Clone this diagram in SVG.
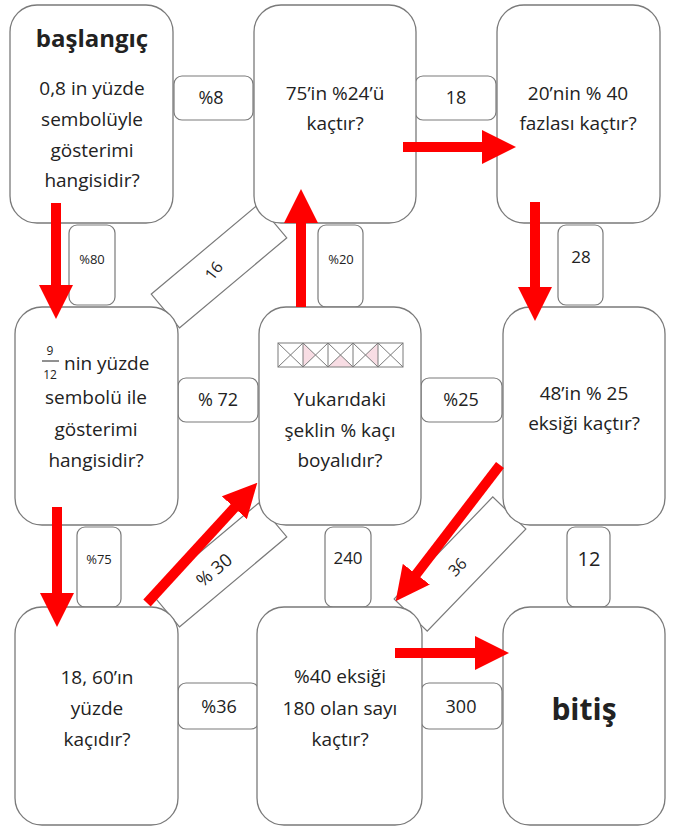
<svg xmlns="http://www.w3.org/2000/svg" width="675" height="827" viewBox="0 0 675 827">
<defs>
<style>
.node{fill:#fff;stroke:#7a7a7a;stroke-width:1.3}
.lbl{fill:#fff;stroke:#7a7a7a;stroke-width:1.2}
text{font-family:"Open Sans","Liberation Sans",sans-serif;fill:#222;text-anchor:middle}
.t{font-size:19px}
.b{font-weight:bold}
.s{font-size:18px}
.xs{font-size:13px}
.arrow{stroke:#ff0000;stroke-width:10;fill:none;marker-end:url(#ah)}
.grid line{stroke:#7a7a7a;stroke-width:1}
.pink{fill:#f8dde4}
</style>
<marker id="ah" markerUnits="userSpaceOnUse" markerWidth="34" markerHeight="34" viewBox="0 0 34 34" refX="1" refY="17" orient="auto"><path d="M0,0 L34,17 L0,34 z" fill="#ff0000"/></marker>
</defs>
<rect width="675" height="827" fill="#fff"/>

<g id="edge-labels">
  <g id="lbl-8"><rect class="lbl" x="174" y="76" width="79" height="44" rx="8"/><text class="s" x="211" y="104">%8</text></g>
  <g id="lbl-18"><rect class="lbl" x="415" y="76" width="81" height="44" rx="8"/><text class="s" x="456" y="104">18</text></g>
  <g id="lbl-72"><rect class="lbl" x="178" y="378" width="80" height="44" rx="8"/><text class="s" x="218" y="406">% 72</text></g>
  <g id="lbl-25"><rect class="lbl" x="421" y="378" width="81" height="44" rx="8"/><text class="s" x="461" y="406">%25</text></g>
  <g id="lbl-36"><rect class="lbl" x="178" y="683" width="81" height="46" rx="8"/><text class="s" x="219" y="713">%36</text></g>
  <g id="lbl-300"><rect class="lbl" x="421" y="683" width="81" height="46" rx="8"/><text class="s" x="461" y="713">300</text></g>
  <g id="lbl-80"><rect class="lbl" x="69" y="225" width="46" height="80" rx="8"/><text class="xs" x="92" y="264">%80</text></g>
  <g id="lbl-20"><rect class="lbl" x="318" y="225" width="45" height="82" rx="8"/><text class="xs" x="341" y="264">%20</text></g>
  <g id="lbl-28"><rect class="lbl" x="558" y="225" width="45" height="80" rx="8"/><text x="581" y="263" font-size="17">28</text></g>
  <g id="lbl-75"><rect class="lbl" x="77" y="527" width="44" height="80" rx="8"/><text class="xs" x="99" y="564">%75</text></g>
  <g id="lbl-240"><rect class="lbl" x="325" y="527" width="46" height="80" rx="8"/><text x="348" y="564" font-size="17">240</text></g>
  <g id="lbl-12"><rect class="lbl" x="567" y="527" width="43" height="80" rx="8"/><text x="589" y="566" font-size="20">12</text></g>
  <g id="lbl-16" transform="translate(219,266) rotate(-40)"><rect class="lbl" x="-70" y="-22" width="140" height="44"/><text x="-7" y="6" font-size="16" transform="rotate(-12 -7 0)">16</text></g>
  <g id="lbl-30" transform="translate(219,565) rotate(-40)"><rect class="lbl" x="-70" y="-22" width="140" height="44"/><text x="-7" y="7" font-size="18">% 30</text></g>
  <g id="lbl-36d" transform="translate(460,564) rotate(-46)"><rect class="lbl" x="-71" y="-23" width="142" height="46"/><text x="-4" y="6" font-size="16">36</text></g>
</g>

<g id="node-baslangic">
  <rect class="node" x="10" y="5" width="163" height="218" rx="27"/>
  <text class="b" x="92" y="47" font-size="24">başlangıç</text>
  <text class="t" x="92" y="95">0,8 in yüzde</text>
  <text class="t" x="92" y="126">sembolüyle</text>
  <text class="t" x="92" y="157">gösterimi</text>
  <text class="t" x="92" y="187">hangisidir?</text>
</g>
<g id="node-75">
  <rect class="node" x="254" y="5" width="162" height="218" rx="27"/>
  <text class="t" x="335" y="100">75’in %24’ü</text>
  <text class="t" x="335" y="130">kaçtır?</text>
</g>
<g id="node-20">
  <rect class="node" x="497" y="5" width="163" height="218" rx="27"/>
  <text class="t" x="578" y="100">20’nin % 40</text>
  <text class="t" x="578" y="130">fazlası kaçtır?</text>
</g>
<g id="node-9-12">
  <rect class="node" x="15" y="307" width="163" height="218" rx="27"/>
  <text x="50" y="355" font-size="12">9</text>
  <line x1="42" y1="361" x2="59" y2="361" stroke="#222" stroke-width="1"/>
  <text x="50" y="379" font-size="12">12</text>
  <text class="t" x="64" y="370" style="text-anchor:start">nin yüzde</text>
  <text class="t" x="96" y="404">sembolü ile</text>
  <text class="t" x="96" y="436">gösterimi</text>
  <text class="t" x="96" y="467">hangisidir?</text>
</g>
<g id="node-yukaridaki">
  <rect class="node" x="259" y="307" width="162" height="218" rx="27"/>
  <g class="grid">
    <polygon class="pink" points="303,343 315.5,355 303,367"/>
    <polygon class="pink" points="328,367 340.5,355 353,367"/>
    <polygon class="pink" points="378,343 365.5,355 378,367"/>
    <rect x="278" y="343" width="125" height="24" fill="none" stroke="#7a7a7a" stroke-width="1"/>
    <line x1="303" y1="343" x2="303" y2="367"/><line x1="328" y1="343" x2="328" y2="367"/><line x1="353" y1="343" x2="353" y2="367"/><line x1="378" y1="343" x2="378" y2="367"/>
    <line x1="278" y1="343" x2="303" y2="367"/><line x1="303" y1="343" x2="278" y2="367"/>
    <line x1="303" y1="343" x2="328" y2="367"/><line x1="328" y1="343" x2="303" y2="367"/>
    <line x1="328" y1="343" x2="353" y2="367"/><line x1="353" y1="343" x2="328" y2="367"/>
    <line x1="353" y1="343" x2="378" y2="367"/><line x1="378" y1="343" x2="353" y2="367"/>
    <line x1="378" y1="343" x2="403" y2="367"/><line x1="403" y1="343" x2="378" y2="367"/>
  </g>
  <text class="t" x="340" y="406">Yukarıdaki</text>
  <text class="t" x="340" y="437">şeklin % kaçı</text>
  <text class="t" x="340" y="467">boyalıdır?</text>
</g>
<g id="node-48">
  <rect class="node" x="503" y="307" width="162" height="218" rx="27"/>
  <text class="t" x="584" y="400">48’in % 25</text>
  <text class="t" x="584" y="430">eksiği kaçtır?</text>
</g>
<g id="node-18-60">
  <rect class="node" x="15" y="607" width="163" height="218" rx="27"/>
  <text class="t" x="97" y="684">18, 60’ın</text>
  <text class="t" x="97" y="715">yüzde</text>
  <text class="t" x="97" y="746">kaçıdır?</text>
</g>
<g id="node-40">
  <rect class="node" x="257" y="607" width="165" height="218" rx="27"/>
  <text class="t" x="340" y="683">%40 eksiği</text>
  <text class="t" x="340" y="715">180 olan sayı</text>
  <text class="t" x="340" y="746">kaçtır?</text>
</g>
<g id="node-bitis">
  <rect class="node" x="503" y="607" width="162" height="218" rx="27"/>
  <text class="b" x="584" y="720" font-size="30">bitiş</text>
</g>

<g id="connectors">
  <line class="arrow" x1="56" y1="203" x2="56" y2="286"/>
  <line class="arrow" x1="301" y1="307" x2="301" y2="222"/>
  <line class="arrow" x1="403" y1="147" x2="483" y2="147"/>
  <line class="arrow" x1="535" y1="202" x2="535" y2="288"/>
  <line class="arrow" x1="500" y1="465" x2="415.7" y2="575"/>
  <line class="arrow" x1="147" y1="603" x2="235" y2="507"/>
  <line class="arrow" x1="57" y1="507" x2="57" y2="594"/>
  <line class="arrow" x1="395" y1="653" x2="476" y2="653"/>
</g>
</svg>
